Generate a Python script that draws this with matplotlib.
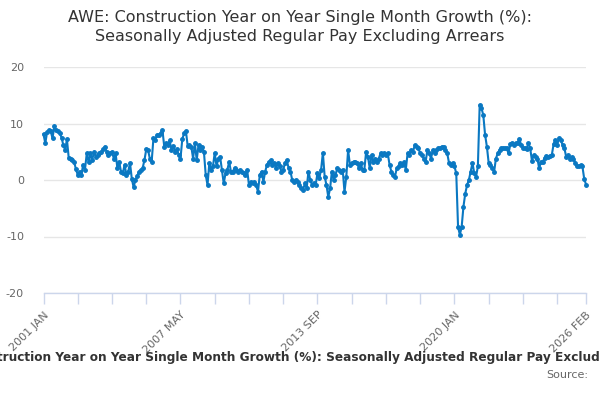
import matplotlib
matplotlib.use("Agg")
import matplotlib.pyplot as plt
import pandas as pd
import numpy as np

title = "AWE: Construction Year on Year Single Month Growth (%):\nSeasonally Adjusted Regular Pay Excluding Arrears"
series_name = "AWE: Construction Year on Year Single Month Growth (%): Seasonally Adjusted Regular Pay Excluding Arrears"
start_month = "2001-01"

values = [
    # 2001-2006
    8.1, 6.5, 8.5, 8.8, 8.6, 7.4, 9.5, 8.8, 8.6, 8.4, 7.5, 6.2,
    5.3, 7.2, 3.9, 3.8, 3.5, 3.2, 1.9, 0.9, 1.5, 0.9, 2.7, 1.8,
    4.7, 3.2, 4.7, 3.5, 5.0, 4.1, 4.4, 4.8, 5.0, 5.4, 5.9, 5.0,
    4.4, 4.8, 5.0, 3.8, 4.7, 2.1, 3.2, 1.5, 1.2, 2.7, 0.9, 1.5,
    3.0, 0.2, -1.3, 0.0, 0.7, 1.5, 1.8, 2.1, 3.5, 5.4, 5.3, 3.8,
    3.2, 7.4, 7.1, 8.0, 8.0, 8.3, 8.8, 5.9, 6.5, 6.2, 7.0, 5.3,
    # 2007-2012
    6.0, 5.0, 5.4, 4.5, 3.8, 7.2, 8.3, 8.7, 6.0, 6.2, 5.9, 3.8,
    6.5, 3.5, 6.2, 5.3, 5.9, 5.0, 0.9, -0.9, 3.0, 1.8, 2.4, 4.8,
    2.4, 3.8, 4.1, 1.8, -0.6, 1.2, 1.8, 3.2, 1.5, 1.5, 2.1, 1.8,
    1.5, 1.8, 1.5, 1.2, 0.9, 1.8, -0.9, -0.3, -0.6, -0.3, -0.9, -2.1,
    0.9, 1.5, -0.3, 1.5, 2.7, 3.2, 3.5, 2.7, 3.0, 2.1, 3.0, 2.4,
    1.5, 1.8, 3.0, 3.5, 2.1, 1.5, 0.0, -0.3, 0.0, -0.3, -0.9, -1.5,
    # 2013-2018
    -1.8, -0.6, -1.5, 1.5, 0.0, -0.9, -0.6, -0.9, 1.2, 0.3, 1.8, 4.8,
    0.6, -0.9, -3.0, -1.5, 1.5, 0.0, 0.9, 2.1, 1.8, 1.5, 1.8, -2.1,
    0.6, 5.3, 2.7, 3.0, 3.2, 3.2, 3.0, 2.1, 3.0, 1.8, 1.8, 5.0,
    4.1, 2.1, 4.4, 3.2, 3.8, 3.2, 3.8, 4.7, 4.4, 4.7, 4.4, 4.7,
    2.7, 1.5, 0.9, 0.6, 2.1, 2.4, 3.0, 2.7, 3.2, 1.8, 4.7, 4.4,
    5.3, 5.0, 6.2, 5.9, 5.6, 4.7, 4.4, 3.8, 3.2, 5.3, 4.7, 3.8,
    # 2019-2024
    5.3, 4.7, 5.3, 5.6, 5.6, 5.9, 5.9, 5.3, 4.7, 3.0, 2.7, 3.0,
    2.4, 1.2, -8.3, -9.7, -8.3, -4.7, -2.4, -0.9, 0.0, 1.5, 3.0, 1.2,
    0.6, 2.4, 13.3, 12.7, 11.5, 8.0, 5.9, 3.0, 2.7, 2.2, 1.4, 3.8,
    4.7, 5.3, 5.6, 5.7, 5.6, 5.6, 4.7, 6.3, 6.6, 6.2, 6.5, 6.5,
    7.3, 6.2, 5.7, 5.6, 5.5, 6.5, 5.7, 3.4, 4.4, 4.1, 3.8, 2.1,
    3.2, 3.2, 3.9, 4.3, 4.1, 4.3, 4.4, 6.3, 7.1, 6.2, 7.4, 7.1,
    # 2025-2026
    6.2, 5.6, 4.1, 4.4, 3.8, 4.1, 3.8, 3.0, 2.4, 2.5, 2.6, 2.4,
    0.2, -0.8,
]

dates = pd.date_range(start_month, periods=len(values), freq="MS")
df = pd.DataFrame({"date": dates, "value": values})

label_idx = [0, 76, 152, 228, len(values) - 1]
tick_idx = list(range(0, len(values) - 10, 19)) + [len(values) - 1]
yticks = [-20, -10, 0, 10, 20]

line_color = "#0a78c2"
grid_color = "#e6e6e6"
text_color = "#333333"
tick_color = "#666666"
axis_color = "#ccd6eb"

fig = plt.figure(figsize=(6, 4), dpi=100)
ax = fig.add_axes([0.0725, 0.2675, 0.9042, 0.565])

x = np.arange(len(values))
ax.plot(x, df["value"], color=line_color, lw=1.5, marker="o", ms=2.5,
        mec=line_color, mfc=line_color, zorder=3, clip_on=False)

ax.set_xlim(0, len(values) - 1)
ax.set_ylim(-20, 20)
ax.set_yticks(yticks)
ax.set_yticklabels([str(v) for v in yticks], color=tick_color, fontsize=8)
ax.yaxis.grid(True, color=grid_color, lw=1)
ax.set_axisbelow(True)
ax.tick_params(axis="y", length=0, pad=14)

# major ticks: labelled positions; minor ticks: the remaining tick marks
lbls = [d.strftime("%Y %b").upper() for d in df["date"].iloc[label_idx]]
ax.set_xticks(label_idx)
ax.set_xticklabels(lbls, rotation=45, ha="right", rotation_mode="anchor",
                   color=tick_color, fontsize=8)
ax.set_xticks([t for t in tick_idx if t not in label_idx], minor=True)
ax.tick_params(axis="x", which="both", length=8, color=axis_color, width=1, pad=4)

for s in ["top", "right", "left"]:
    ax.spines[s].set_visible(False)
ax.spines["bottom"].set_color(axis_color)
ax.spines["bottom"].set_linewidth(1)

fig.text(0.5, 0.975, title, ha="center", va="top", fontsize=11.5, color=text_color,
         linespacing=1.35)
fig.text(0.5, 0.107, series_name, ha="center", va="center", fontsize=8.7,
         fontweight="bold", color=text_color)
fig.text(0.91, 0.062, "Source:", ha="left", va="center", fontsize=8, color=tick_color)

fig.savefig("out.png", dpi=100)
